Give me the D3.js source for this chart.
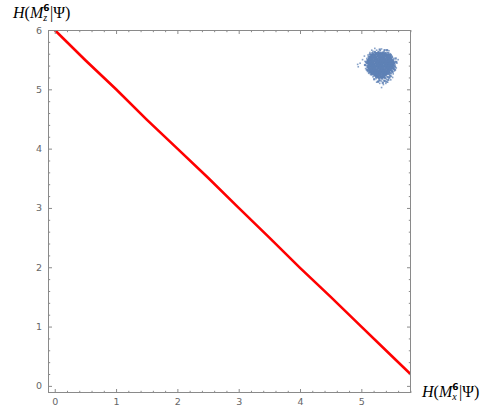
<!DOCTYPE html>
<html>
<head>
<meta charset="utf-8">
<script src="https://cdn.jsdelivr.net/npm/d3@7"></script>
<style>
  html, body { margin: 0; padding: 0; background: #fff; }
  svg { display: block; }
</style>
</head>
<body>
<svg id="chart" width="502" height="407"></svg>
<script>
// Lower bound curve H(Mx) + H(Mz) (red line)
const boundX = [0, 0.5, 1.0, 1.5, 2.0, 2.5, 3.0, 3.5, 4.0, 4.5, 5.0, 5.5, 5.81];
const boundY = [6.0, 5.49, 5.0, 4.49, 4.0, 3.51, 3.0, 2.5, 1.99, 1.5, 1.0, 0.5, 0.19];

// Sampled states: dense core of the cloud (rows of equal H(Mz))
const coreRows = [
  [5.60, [5.24, 5.29, 5.33, 5.38]],
  [5.57, [5.18, 5.22, 5.27, 5.31, 5.36, 5.41, 5.44]],
  [5.54, [5.15, 5.20, 5.24, 5.29, 5.33, 5.37, 5.42, 5.46]],
  [5.51, [5.13, 5.17, 5.22, 5.26, 5.31, 5.35, 5.39, 5.44, 5.48]],
  [5.48, [5.12, 5.16, 5.20, 5.25, 5.29, 5.33, 5.38, 5.42, 5.46, 5.50]],
  [5.45, [5.12, 5.15, 5.19, 5.24, 5.28, 5.32, 5.36, 5.41, 5.45, 5.49, 5.52]],
  [5.42, [5.13, 5.17, 5.21, 5.26, 5.30, 5.34, 5.39, 5.43, 5.47, 5.51]],
  [5.39, [5.12, 5.16, 5.20, 5.24, 5.28, 5.33, 5.37, 5.41, 5.46, 5.50]],
  [5.36, [5.13, 5.18, 5.22, 5.27, 5.31, 5.35, 5.40, 5.44, 5.48, 5.51]],
  [5.33, [5.14, 5.17, 5.21, 5.25, 5.30, 5.34, 5.38, 5.43, 5.47]],
  [5.30, [5.16, 5.20, 5.24, 5.28, 5.33, 5.37, 5.41, 5.45]],
  [5.27, [5.18, 5.23, 5.27, 5.31, 5.36, 5.40, 5.44]],
  [5.24, [5.22, 5.26, 5.30, 5.35, 5.39]],
  [5.21, [5.27, 5.32, 5.36]]
];

// Sampled states: edge of the cloud
const edgeX = [5.20, 5.16, 5.28, 5.35, 5.40, 5.44, 5.30, 5.38, 5.26, 5.22, 5.48, 5.42,
               5.52, 5.54, 5.55, 5.53, 5.56, 5.51, 5.53, 5.57, 5.50, 5.55,
               5.24, 5.29, 5.34, 5.39, 5.43, 5.47, 5.30, 5.38, 5.44, 5.27, 5.35, 5.41, 5.21, 5.32,
               5.09, 5.10, 5.10, 5.11, 5.08, 5.12, 5.09, 5.13, 5.06, 5.14,
               5.17, 5.15, 5.48, 5.50, 5.47, 5.18, 5.13, 5.46];
const edgeY = [5.60, 5.58, 5.63, 5.62, 5.60, 5.61, 5.67, 5.66, 5.61, 5.63, 5.58, 5.66,
               5.49, 5.44, 5.38, 5.34, 5.52, 5.29, 5.40, 5.46, 5.54, 5.33,
               5.21, 5.19, 5.18, 5.19, 5.21, 5.23, 5.15, 5.14, 5.16, 5.13, 5.11, 5.13, 5.17, 5.20,
               5.44, 5.37, 5.49, 5.32, 5.46, 5.55, 5.33, 5.29, 5.41, 5.59,
               5.25, 5.28, 5.27, 5.31, 5.57, 5.61, 5.51, 5.20];

// Sampled states: sparse outliers around the cloud
const fringeX = [5.06, 5.08, 5.09, 5.07, 5.10, 5.11, 5.14, 5.19, 5.25, 5.31, 5.37, 5.42, 5.47, 5.50, 5.53,
                 5.56, 5.55, 5.57, 5.54, 5.52, 5.49, 5.45, 5.41, 5.37, 5.33, 5.29, 5.24, 5.19, 5.15, 5.12,
                 4.98, 4.95, 5.02, 5.33, 5.30, 5.43, 5.58, 5.60, 5.25, 5.40, 5.48, 5.05, 5.33, 5.45, 5.22,
                 4.94, 5.36, 5.28, 5.51, 5.17];
const fringeY = [5.47, 5.40, 5.52, 5.35, 5.30, 5.58, 5.62, 5.64, 5.66, 5.65, 5.64, 5.62, 5.60, 5.56, 5.52,
                 5.47, 5.41, 5.36, 5.31, 5.26, 5.22, 5.19, 5.17, 5.15, 5.14, 5.16, 5.18, 5.21, 5.25, 5.27,
                 5.44, 5.38, 5.50, 5.03, 5.10, 5.12, 5.44, 5.50, 5.12, 5.10, 5.16, 5.56, 5.68, 5.65, 5.69,
                 5.42, 5.08, 5.13, 5.20, 5.66];

const xTicks = [0, 1, 2, 3, 4, 5];
const yTicks = [0, 1, 2, 3, 4, 5, 6];

const svg = d3.select("#chart");
const plotL = 48, plotR = 411, plotT = 30, plotB = 393;

const x = d3.scaleLinear().domain([-0.11, 5.81]).range([plotL, plotR]);
const y = d3.scaleLinear().domain([-0.12, 6.0]).range([plotB, plotT]);

const frameColor = "#8a8a8a";
const labelColor = "#666666";

svg.append("defs").append("clipPath").attr("id", "plotClip")
  .append("rect").attr("x", plotL).attr("y", plotT)
  .attr("width", plotR - plotL).attr("height", plotB - plotT);

const plot = svg.append("g").attr("clip-path", "url(#plotClip)");

// cloud points
const blue = "#5e81b5";
function drawPoints(pts, size, opacity) {
  plot.append("g").selectAll("rect").data(pts).join("rect")
    .attr("x", d => x(d[0]) - size / 2).attr("y", d => y(d[1]) - size / 2)
    .attr("width", size).attr("height", size)
    .attr("fill", blue).attr("opacity", opacity);
}
const corePts = [];
coreRows.forEach(([yv, xs]) => xs.forEach(xv => corePts.push([xv, yv])));
drawPoints(corePts, 3.2, 1);
drawPoints(edgeX.map((v, i) => [v, edgeY[i]]), 2.2, 0.9);
drawPoints(fringeX.map((v, i) => [v, fringeY[i]]), 1.6, 0.75);

// bound line
const line = d3.line().x(d => x(d[0])).y(d => y(d[1]));
plot.append("path")
  .datum(boundX.map((v, i) => [v, boundY[i]]))
  .attr("d", line).attr("fill", "none")
  .attr("stroke", "#ff0000").attr("stroke-width", 2.6);

// frame with ticks on all sides
const tickSize = 4, minorSize = 2.2;
const xMinor = d3.range(0, 5.81, 0.2).filter(v => Math.abs(v - Math.round(v)) > 1e-6);
const yMinor = d3.range(0, 6.0, 0.2).filter(v => Math.abs(v - Math.round(v)) > 1e-6);

function addAxis(axisGen, transform, labels) {
  const g = svg.append("g").attr("transform", transform).call(axisGen);
  g.select(".domain").remove();
  g.selectAll("line").attr("stroke", frameColor);
  g.selectAll("text").attr("fill", labelColor)
    .style("font-family", "'DejaVu Sans', sans-serif").style("font-size", "9.5px");
  if (!labels) g.selectAll("text").remove();
  return g;
}

// major ticks (inward)
addAxis(d3.axisBottom(x).tickValues(xTicks).tickFormat(d3.format("d")).tickSizeInner(-tickSize).tickSizeOuter(0).tickPadding(5),
  `translate(0,${plotB})`, true);
addAxis(d3.axisTop(x).tickValues(xTicks).tickSizeInner(-tickSize).tickSizeOuter(0),
  `translate(0,${plotT})`, false);
addAxis(d3.axisLeft(y).tickValues(yTicks).tickFormat(d3.format("d")).tickSizeInner(-tickSize).tickSizeOuter(0).tickPadding(6),
  `translate(${plotL},0)`, true);
addAxis(d3.axisRight(y).tickValues(yTicks).tickSizeInner(-tickSize).tickSizeOuter(0),
  `translate(${plotR},0)`, false);
// minor ticks
addAxis(d3.axisBottom(x).tickValues(xMinor).tickSizeInner(-minorSize).tickSizeOuter(0),
  `translate(0,${plotB})`, false);
addAxis(d3.axisTop(x).tickValues(xMinor).tickSizeInner(-minorSize).tickSizeOuter(0),
  `translate(0,${plotT})`, false);
addAxis(d3.axisLeft(y).tickValues(yMinor).tickSizeInner(-minorSize).tickSizeOuter(0),
  `translate(${plotL},0)`, false);
addAxis(d3.axisRight(y).tickValues(yMinor).tickSizeInner(-minorSize).tickSizeOuter(0),
  `translate(${plotR},0)`, false);

svg.append("rect").attr("x", plotL + 0.5).attr("y", plotT + 0.5)
  .attr("width", plotR - plotL - 1).attr("height", plotB - plotT - 1)
  .attr("fill", "none").attr("stroke", frameColor).attr("stroke-width", 1);

// axis titles H(M_a^6|Ψ)
function entropyLabel(x0, baseline, sub) {
  const serif = "'Liberation Serif', 'DejaVu Serif', serif";
  const g = svg.append("g");
  let cx = x0;
  function part(txt, opts) {
    const t = g.append("text").attr("x", cx).attr("y", baseline + (opts.dy || 0))
      .attr("fill", "#000").style("font-family", opts.family || serif)
      .style("font-size", (opts.size || 16) + "px")
      .style("font-style", opts.italic ? "italic" : "normal")
      .style("font-weight", opts.bold ? "bold" : "normal")
      .text(txt);
    return t.node().getComputedTextLength();
  }
  cx += part("H", { italic: true });
  cx += part("(", {});
  cx += part("M", { italic: true });
  const wSub = part(sub, { italic: true, size: 10, dy: 3 });
  const wSup = part("6", { size: 9, bold: true, family: "'DejaVu Sans', sans-serif", dy: -7 });
  cx += Math.max(wSub, wSup) + 0.5;
  cx += part("|", {});
  cx += part("Ψ", {});
  part(")", {});
}
entropyLabel(13, 18, "z");
entropyLabel(422, 397, "x");
</script>
</body>
</html>
